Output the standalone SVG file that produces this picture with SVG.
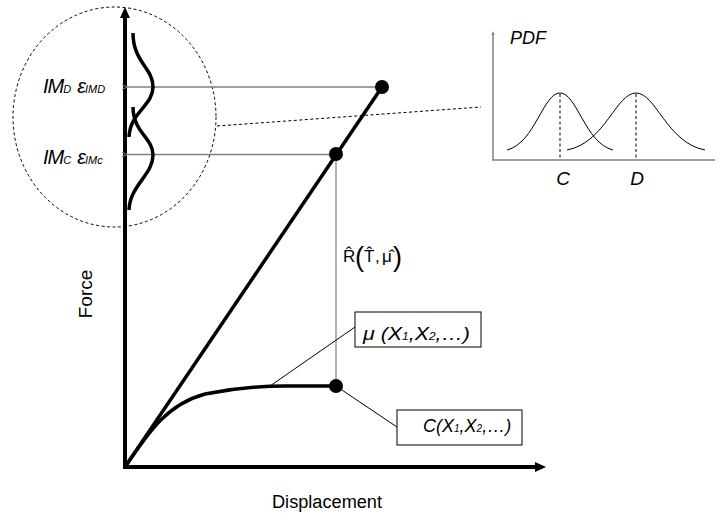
<svg xmlns="http://www.w3.org/2000/svg" width="715" height="515" viewBox="0 0 715 515">
<defs>
<style>
.t{font-family:"Liberation Sans",Arial,sans-serif;fill:#000}
.i{font-style:italic}
.thick{fill:none;stroke:#000;stroke-width:3.5;stroke-linecap:butt}
.gray{fill:none;stroke:#808080;stroke-width:1.5}
.thin{fill:none;stroke:#000;stroke-width:1}
.dash{fill:none;stroke:#000;stroke-width:1;stroke-dasharray:3,2.5}
.box{fill:#fff;stroke:#000;stroke-width:1}
</style>
<marker id="ga" viewBox="0 0 6 6" refX="0.5" refY="3" markerWidth="6" markerHeight="6" markerUnits="userSpaceOnUse" orient="auto">
<path d="M6,0.5 L0,3 L6,5.5" fill="none" stroke="#808080" stroke-width="1"/>
</marker>
</defs>
<rect width="715" height="515" fill="#fff"/>

<g id="zoom-circle">
<ellipse cx="114.5" cy="117" rx="101.5" ry="110" class="dash"/>
</g>

<g id="axes">
<line x1="125" y1="467" x2="125" y2="16" stroke="#000" stroke-width="4"/>
<polygon points="125,7 120,18 130,18" fill="#000"/>
<line x1="123" y1="467" x2="536" y2="467" stroke="#000" stroke-width="4"/>
<polygon points="546,467 535,462 535,472" fill="#000"/>
<text class="t" x="92" y="294" font-size="19" text-anchor="middle" transform="rotate(-90 92 294)">Force</text>
<text class="t" x="272" y="508" font-size="18" textLength="110" lengthAdjust="spacingAndGlyphs">Displacement</text>
</g>

<g id="connectors">
<line x1="380" y1="87" x2="127" y2="87" class="gray" marker-end="url(#ga)"/>
<line x1="336" y1="154.5" x2="127" y2="154.5" class="gray" marker-end="url(#ga)"/>
<line x1="336" y1="154" x2="336" y2="386" stroke="#808080" stroke-width="1.2"/>
<line x1="217" y1="126" x2="481" y2="107" class="dash" stroke="#555"/>
<line x1="270" y1="386" x2="355" y2="327" class="thin"/>
<line x1="336" y1="386" x2="397" y2="427" class="thin"/>
</g>

<g id="distributions">
<path class="thick" d="M133,33 C133,62 153,68 153,87 C153,106 130,112 129,137"/>
<path class="thick" d="M133,107 C133,132 153,138 153,155 C153,175 130,185 129,210"/>
</g>

<g id="im-labels">
<text class="t i" x="43" y="93" font-size="20" letter-spacing="-1">IM<tspan font-size="11" letter-spacing="0">D</tspan><tspan dx="6" font-size="20">ε</tspan><tspan font-size="11" letter-spacing="0">IMD</tspan></text>
<text class="t i" x="43" y="164" font-size="20" letter-spacing="-1">IM<tspan font-size="11" letter-spacing="0">C</tspan><tspan dx="6" font-size="20">ε</tspan><tspan font-size="11" letter-spacing="0">IMc</tspan></text>
</g>

<g id="stiffness-line">
<line x1="125" y1="467" x2="382" y2="87" class="thick"/>
</g>

<g id="capacity-curve">
<path class="thick" d="M125,467 C150,430 168,404 205,394 C235,388 255,386 285,386 L336,386"/>
</g>

<g id="points">
<circle cx="382" cy="87" r="7" fill="#000"/>
<circle cx="336" cy="154" r="7" fill="#000"/>
<circle cx="336" cy="386" r="7" fill="#000"/>
</g>

<g id="r-label">
<text class="t" x="343" y="262" font-size="17">R̂</text>
<text class="t" x="355" y="266" font-size="27">(</text>
<text class="t" x="364" y="262" font-size="17">T̂</text>
<text class="t" x="375" y="262" font-size="17">,</text>
<text class="t" x="382" y="262" font-size="17">μ̂</text>
<text class="t" x="393" y="266" font-size="27">)</text>
</g>

<g id="mu-box">
<rect x="355" y="312" width="126" height="35" class="box"/>
<text class="t i" x="363" y="340" font-size="18" textLength="107" lengthAdjust="spacingAndGlyphs">μ (X<tspan font-size="10">1</tspan>,X<tspan font-size="10">2</tspan>,…)</text>
</g>

<g id="c-box">
<rect x="397" y="410" width="125" height="35" class="box"/>
<text class="t i" x="423" y="432" font-size="18">C(X<tspan font-size="10">1</tspan>,X<tspan font-size="10">2</tspan>,…)</text>
</g>

<g id="pdf-plot">
<line x1="493" y1="33" x2="493" y2="160" class="gray"/>
<polygon points="493,31 491.5,35 494.5,35" fill="#808080"/>
<line x1="492" y1="160" x2="715" y2="160" class="gray"/>
<text class="t i" x="510" y="44" font-size="18">PDF</text>
<path class="thin" d="M507,150 C535,143 543,93 560,93 C577,93 585,143 613,150"/>
<path class="thin" d="M567,150 C605,143 616,93 636,93 C656,93 667,143 705,150"/>
<line x1="560" y1="94" x2="560" y2="160" class="dash"/>
<line x1="636" y1="94" x2="636" y2="160" class="dash"/>
<text class="t i" x="563" y="185" font-size="19" text-anchor="middle">C</text>
<text class="t i" x="637" y="185" font-size="19" text-anchor="middle">D</text>
</g>
</svg>
